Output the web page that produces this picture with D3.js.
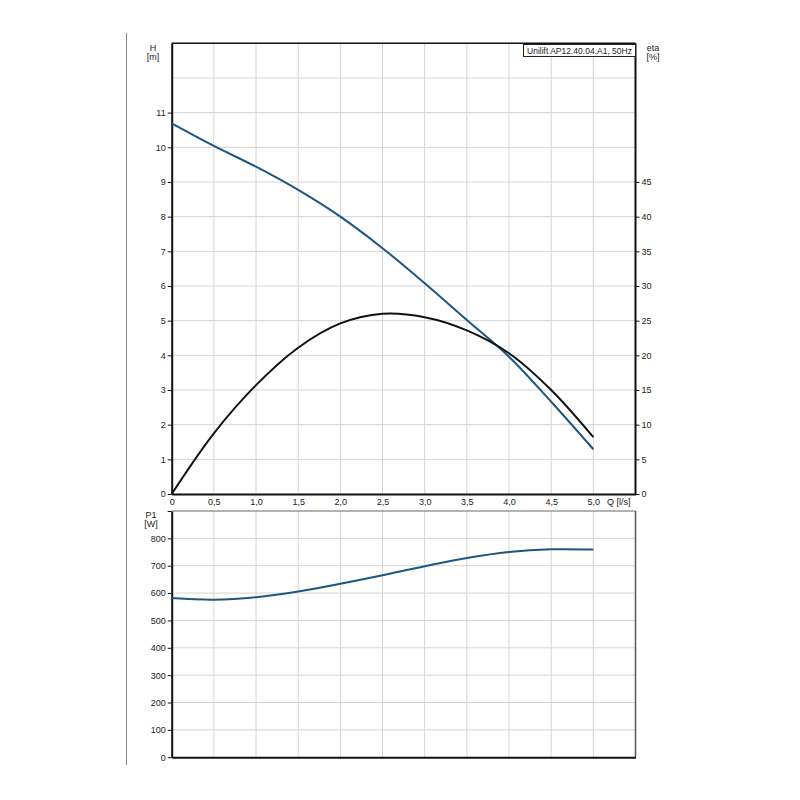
<!DOCTYPE html>
<html><head><meta charset="utf-8">
<script src="https://cdn.jsdelivr.net/npm/d3@7"></script>
<style>
body{margin:0;background:#fff;}
text{font-family:"Liberation Sans",Arial,sans-serif;fill:#222;}
</style></head>
<body>
<svg id="c" width="800" height="800"></svg>
<script>
const flow = [0, 0.5, 1.0, 1.5, 2.0, 2.5, 3.0, 3.5, 4.0, 4.5, 5.0];
const head = [10.69, 10.04, 9.44, 8.77, 8.0, 7.09, 6.08, 5.02, 3.96, 2.66, 1.29];
const eta = [0, 8.75, 15.7, 21.1, 24.6, 26.0, 25.5, 23.6, 20.3, 15.0, 8.2];
const power = [582, 576, 585, 606, 634, 665, 698, 728, 750, 760, 759];
const qTicks = [0, 0.5, 1.0, 1.5, 2.0, 2.5, 3.0, 3.5, 4.0, 4.5, 5.0];
const hTicks = [0,1,2,3,4,5,6,7,8,9,10,11];
const etaTicks = [0,5,10,15,20,25,30,35,40,45];
const pTicks = [0,100,200,300,400,500,600,700,800];
const title = "Unilift AP12.40.04.A1, 50Hz";

const svg = d3.select("#c");
const fmt = d => d === 0 ? "0" : d3.format(".1f")(d).replace(".", ",");
const FS = "9px";

const x = d3.scaleLinear().domain([0, 5.5]).range([171.7, 635.5]);
const yH = d3.scaleLinear().domain([0, 13]).range([494, 43.3]);
const yE = d3.scaleLinear().domain([0, 65]).range([494, 43.3]);
const yP = d3.scaleLinear().domain([0, 900]).range([757.2, 511]);

svg.append("line").attr("x1",126.5).attr("x2",126.5).attr("y1",33).attr("y2",765)
  .attr("stroke","#888").attr("stroke-width",1);

const gridC = "#d4d4d4";
const gTop = svg.append("g");
gTop.selectAll(".v").data(d3.range(0.5, 5.5, 0.5)).join("line")
  .attr("x1", d=>x(d)).attr("x2", d=>x(d)).attr("y1", yH(13)).attr("y2", yH(0))
  .attr("stroke", gridC).attr("stroke-width", 1);
gTop.selectAll(".h").data(d3.range(1, 13)).join("line")
  .attr("x1", x(0)).attr("x2", x(5.5)).attr("y1", d=>yH(d)).attr("y2", d=>yH(d))
  .attr("stroke", gridC).attr("stroke-width", 1);

const gBot = svg.append("g");
gBot.selectAll(".v").data(d3.range(0.5, 5.5, 0.5)).join("line")
  .attr("x1", d=>x(d)).attr("x2", d=>x(d)).attr("y1", yP(900)).attr("y2", yP(0))
  .attr("stroke", gridC).attr("stroke-width", 1);
gBot.selectAll(".h").data(d3.range(100, 900, 100)).join("line")
  .attr("x1", x(0)).attr("x2", x(5.5)).attr("y1", d=>yP(d)).attr("y2", d=>yP(d))
  .attr("stroke", gridC).attr("stroke-width", 1);

svg.append("line").attr("x1",x(0)).attr("x2",x(5.5)).attr("y1",yH(13)).attr("y2",yH(13)).attr("stroke","#111").attr("stroke-width",1.5);
svg.append("line").attr("x1",x(5.5)).attr("x2",x(5.5)).attr("y1",yH(13)).attr("y2",yH(0)).attr("stroke","#111").attr("stroke-width",2);

svg.append("line").attr("x1",x(0)).attr("x2",x(5.5)).attr("y1",yP(900)).attr("y2",yP(900)).attr("stroke","#666").attr("stroke-width",1);
svg.append("line").attr("x1",x(5.5)).attr("x2",x(5.5)).attr("y1",yP(900)).attr("y2",yP(0)).attr("stroke","#555").attr("stroke-width",1.5);

function styleAxis(g){
  g.select(".domain").attr("stroke","#111").attr("stroke-width",2);
  g.selectAll(".tick line").attr("stroke","#111");
  g.selectAll(".tick text").attr("font-size",FS).attr("fill","#222")
    .attr("font-family",'"Liberation Sans",Arial,sans-serif');
}
const axH = svg.append("g").attr("transform",`translate(${x(0)},0)`)
  .call(d3.axisLeft(yH).tickValues(hTicks).tickSize(4).tickSizeOuter(0).tickPadding(2).tickFormat(d3.format("d")));
styleAxis(axH);
const axE = svg.append("g").attr("transform",`translate(${x(5.5)},0)`)
  .call(d3.axisRight(yE).tickValues(etaTicks).tickSize(4).tickSizeOuter(0).tickPadding(2).tickFormat(d3.format("d")));
styleAxis(axE);
axE.select(".domain").attr("stroke","none");
const axQ = svg.append("g").attr("transform",`translate(0,${yH(0)})`)
  .call(d3.axisBottom(x).tickValues(qTicks).tickSize(0).tickSizeOuter(0).tickPadding(5).tickFormat(fmt));
styleAxis(axQ);

const axP = svg.append("g").attr("transform",`translate(${x(0)},0)`)
  .call(d3.axisLeft(yP).tickValues(pTicks.concat([900])).tickSize(4).tickSizeOuter(0).tickPadding(2).tickFormat(d => d===900 ? "" : d3.format("d")(d)));
styleAxis(axP);
const axP0 = svg.append("g").attr("transform",`translate(0,${yP(0)})`)
  .call(d3.axisBottom(x).tickValues([]).tickSize(0).tickSizeOuter(0));
axP0.select(".domain").attr("stroke","#111").attr("stroke-width",2);

const lbl = (t, xx, yy) => svg.append("text").attr("x",xx).attr("y",yy).attr("text-anchor","middle")
  .attr("font-size",FS).text(t);
lbl("H",153,51); lbl("[m]",153,59.5);
lbl("eta",653,51); lbl("[%]",653,59.5);
lbl("P1",151,518); lbl("[W]",151,526.5);
svg.append("text").attr("x",607).attr("y",504.5).attr("font-size",FS).text("Q [l/s]");

svg.append("rect").attr("x",523.5).attr("y",44.5).attr("width",112).attr("height",12)
  .attr("fill","#fff").attr("stroke","#222").attr("stroke-width",1);
svg.append("text").attr("x",579.5).attr("y",53.6).attr("text-anchor","middle").attr("font-size","8.5px").text(title);

const blue = "#1d5680";
const mk = (ys) => d3.line().x((d,i)=>x(flow[i])).y(d=>ys(d)).curve(d3.curveCatmullRom.alpha(0.5));
svg.append("path").attr("d",mk(yH)(head)).attr("fill","none").attr("stroke",blue).attr("stroke-width",2);
svg.append("path").attr("d",mk(yE)(eta)).attr("fill","none").attr("stroke","#111").attr("stroke-width",2);
svg.append("path").attr("d",mk(yP)(power)).attr("fill","none").attr("stroke",blue).attr("stroke-width",2);
</script>
</body></html>
